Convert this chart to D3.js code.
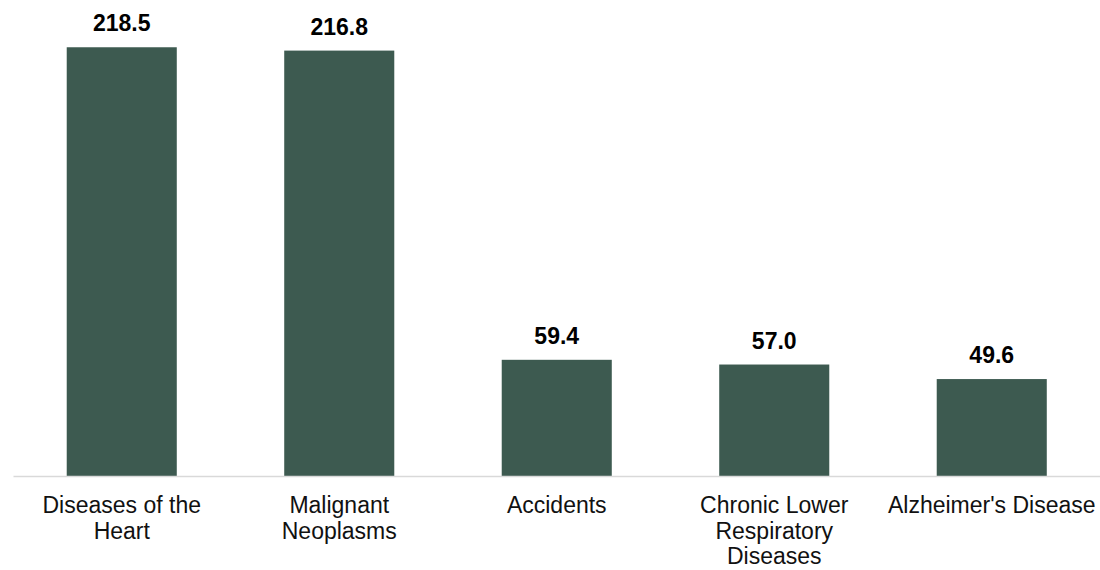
<!DOCTYPE html>
<html>
<head>
<meta charset="utf-8">
<script src="https://cdn.jsdelivr.net/npm/d3@7"></script>
<style>
  html, body { margin: 0; padding: 0; background: #ffffff; }
  svg { display: block; font-family: "Liberation Sans", Arial, sans-serif; }
</style>
</head>
<body>
<svg id="chart" width="1100" height="570"></svg>
<script>
// Leading causes of death: age-adjusted rate per 100,000
const categories = [
  "Diseases of the Heart",
  "Malignant Neoplasms",
  "Accidents",
  "Chronic Lower Respiratory Diseases",
  "Alzheimer's Disease"
];
const rates = [218.5, 216.8, 59.4, 57.0, 49.6];

const data = categories.map((c, i) => ({ category: c, value: rates[i] }));

const svg = d3.select("#chart");
const baseline = 476.5;
const barColor = "#3d5a50";

const x = d3.scaleBand()
  .domain(categories)
  .range([13, 1100.5])
  .paddingInner(0.494)
  .paddingOuter(0.247);

const y = d3.scaleLinear()
  .domain([0, 240])
  .range([baseline, baseline - 240 * 1.9645]);

// Bars
svg.append("g")
  .selectAll("rect")
  .data(data)
  .join("rect")
  .attr("x", d => x(d.category))
  .attr("y", d => y(d.value))
  .attr("width", x.bandwidth())
  .attr("height", d => y(0) - y(d.value))
  .attr("fill", barColor);

// Value labels
svg.append("g")
  .selectAll("text")
  .data(data)
  .join("text")
  .attr("x", d => x(d.category) + x.bandwidth() / 2)
  .attr("y", d => y(d.value) - 15.8)
  .attr("text-anchor", "middle")
  .attr("font-size", "23px")
  .attr("font-weight", "bold")
  .attr("fill", "#000")
  .text(d => d.value.toFixed(1));

// Category axis
const axis = svg.append("g")
  .attr("transform", `translate(0,${baseline})`)
  .call(d3.axisBottom(x).tickSize(0).tickPadding(0));

axis.select(".domain")
  .attr("d", `M13.5,0H1100`)
  .attr("stroke", "#d9d9d9")
  .attr("stroke-width", 1.5);

// Wrap category labels into lines that fit within one band step
const maxWidth = x.step() - 4;
axis.selectAll(".tick text").each(function(d) {
  const text = d3.select(this);
  text.text(null)
    .attr("y", 0)
    .attr("dy", null)
    .attr("font-size", "23px")
    .attr("font-family", "Liberation Sans, Arial, sans-serif")
    .attr("fill", "#111");
  const words = d.split(" ");
  let line = [];
  let lineNo = 0;
  let tspan = text.append("tspan").attr("x", 0).attr("y", 36.8);
  words.forEach(w => {
    line.push(w);
    tspan.text(line.join(" "));
    if (tspan.node().getComputedTextLength() > maxWidth && line.length > 1) {
      line.pop();
      tspan.text(line.join(" "));
      line = [w];
      lineNo += 1;
      tspan = text.append("tspan")
        .attr("x", 0)
        .attr("y", 36.8 + lineNo * 25.3)
        .text(w);
    }
  });
});
</script>
</body>
</html>
